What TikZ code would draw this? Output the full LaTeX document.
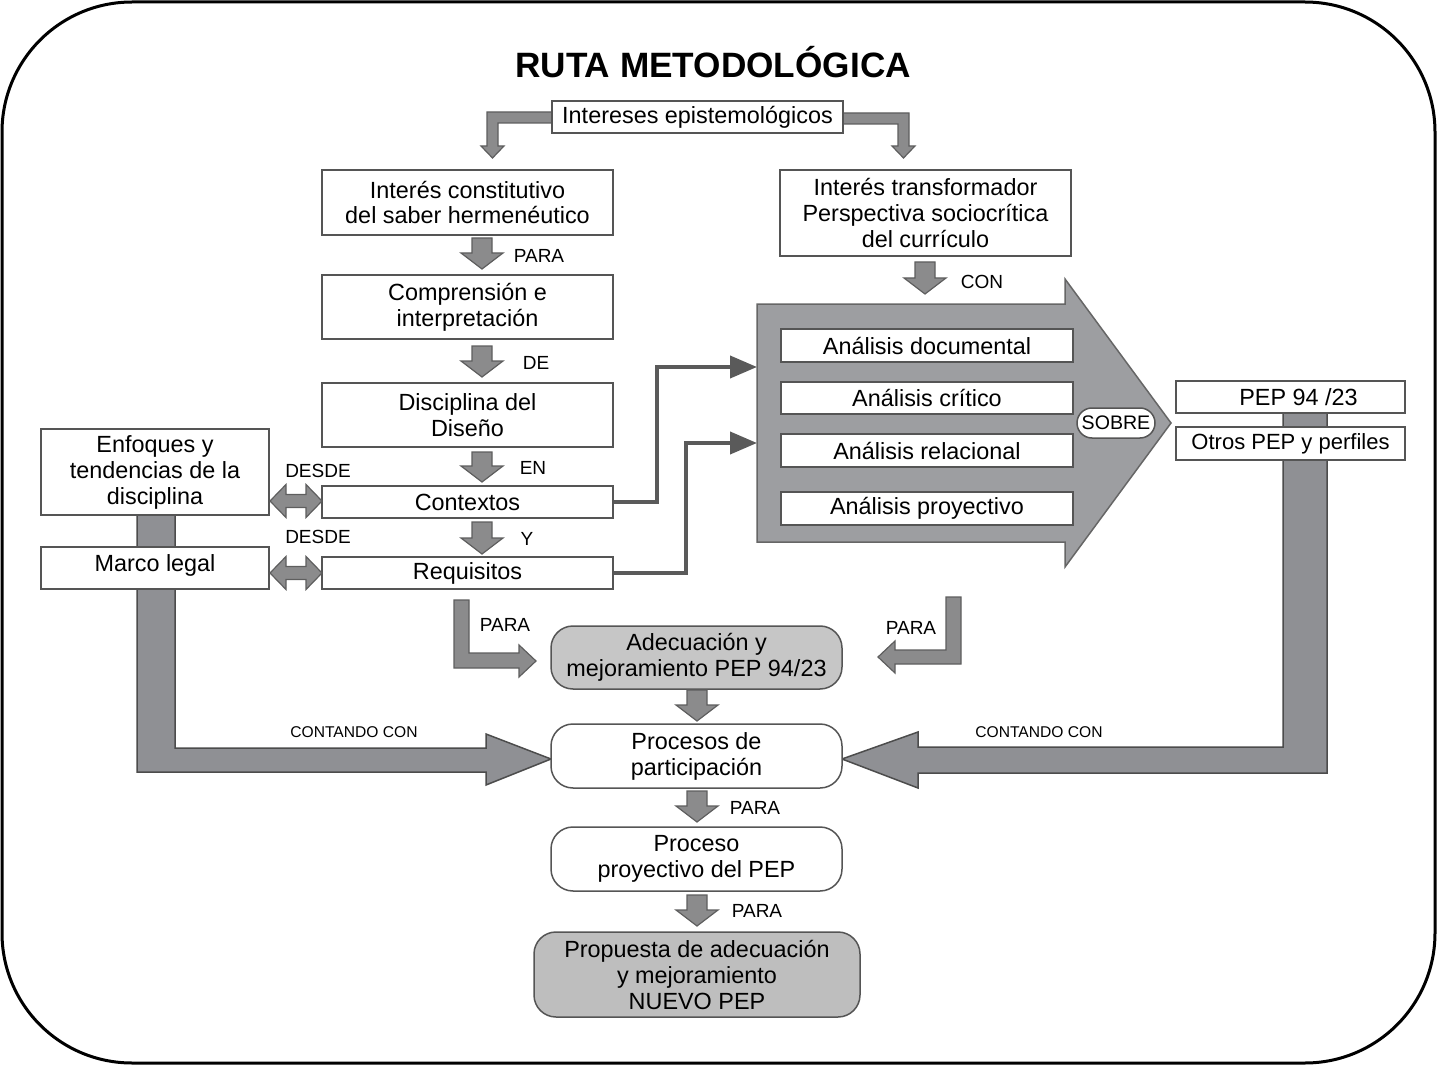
\documentclass[tikz,border=0pt]{standalone}
\usepackage{fontspec}
\setmainfont{Liberation Sans}
\usetikzlibrary{arrows.meta,calc}
\definecolor{boxline}{HTML}{555555}
\definecolor{arrfill}{HTML}{8B8B8C}
\definecolor{arrline}{HTML}{5E5E5E}
\definecolor{barfill}{HTML}{8F9094}
\definecolor{bigfill}{HTML}{9D9EA1}
\definecolor{adefill}{HTML}{C6C6C6}
\definecolor{propfill}{HTML}{BEBEBE}
\definecolor{connline}{HTML}{5A5A5A}
\newcommand\mainfs{\fontsize{11.7}{13}\selectfont}
\newcommand\labfs{\fontsize{9.5}{11}\selectfont}
\newcommand\DnArr[3]{%
  \draw[blockarr] ({#1-10},#2) -- ({#1+10},#2) -- ({#1+10},{#3-16}) -- ({#1+21},{#3-16})
    -- (#1,#3) -- ({#1-21},{#3-16}) -- ({#1-10},{#3-16}) -- cycle;}
\newcommand\DblArr[1]{%
  \draw[blockarr] (270,#1) -- (286,{#1-16.5}) -- (286,{#1-6.5}) -- (306,{#1-6.5}) -- (306,{#1-16.5})
    -- (322,#1) -- (306,{#1+16.5}) -- (306,{#1+6.5}) -- (286,{#1+6.5}) -- (286,{#1+16.5}) -- cycle;}
\begin{document}
\begin{tikzpicture}[x=0.5pt,y=-0.5pt,
  box/.style={draw=boxline,line width=0.75pt,fill=white,inner sep=0pt,align=center,font=\mainfs},
  rbox/.style={box,rounded corners=11pt},
  blockarr/.style={draw=arrline,line width=0.6pt,fill=arrfill,line join=miter},
  bar/.style={draw=black!70,line width=0.75pt,fill=barfill,line join=miter},
  lab/.style={inner sep=0pt,font=\labfs},
  small/.style={inner sep=0pt,font=\fontsize{7.8}{9}\selectfont},
  conn/.style={draw=connline,line width=2pt,-{Triangle[length=13.5pt,width=11pt]}}]
\useasboundingbox (0,0) rectangle (1437,1065);
\draw[line width=1.5pt,rounded corners=65pt] (2,2) rectangle (1435,1063);

\node[inner sep=0pt,font=\bfseries\fontsize{17.6}{20}\selectfont] (title) at (713,62) {RUTA METODOLÓGICA};

% top bent arrows
\draw[blockarr] (552,112) -- (487,112) -- (487,146) -- (481,146) -- (492.5,158) -- (504,146) -- (498,146) -- (498,123) -- (552,123) -- cycle;
\draw[blockarr] (843,113) -- (909,113) -- (909,146) -- (915,146) -- (903.5,158) -- (892,146) -- (898,146) -- (898,124) -- (843,124) -- cycle;
\node[box,minimum width=145.5pt,minimum height=16pt] (ie) at (697.5,117) {Intereses epistemológicos};

% left column
\node[box,minimum width=145.5pt,minimum height=32.5pt] (ic) at (467.5,202.5) {Interés constitutivo\\del saber hermenéutico};
\node[box,minimum width=145.5pt,minimum height=32pt] (ci) at (467.5,307) {Comprensión e\\interpretación};
\node[box,minimum width=145.5pt,minimum height=32pt] (dd) at (467.5,415) {Disciplina del\\Diseño};
\node[box,minimum width=145.5pt,minimum height=16pt] (ctx) at (467.5,502) {Contextos};
\node[box,minimum width=145.5pt,minimum height=16pt] (req) at (467.5,573) {Requisitos};
\DnArr{482}{238}{269}
\DnArr{482}{346}{377}
\DnArr{482}{452}{482}
\DnArr{482}{522}{554}
\node[lab] (l1) at (539,256) {PARA};
\node[lab] (l2) at (536,363) {DE};
\node[lab] (l3) at (533,468) {EN};
\node[lab] (l4) at (527,539) {Y};

% left side boxes and bar
\draw[bar] (137,505) -- (137,772) -- (486,772) -- (486,785) -- (551,759) -- (486,734) -- (486,748) -- (175,748) -- (175,505) -- cycle;
\node[box,minimum width=114pt,minimum height=43pt] (enf) at (155,472) {Enfoques y\\tendencias de la\\disciplina};
\node[box,minimum width=114pt,minimum height=21pt] (ml) at (155,568) {\raisebox{4.5pt}{Marco legal}};
\DblArr{501}
\DblArr{573}
\node[lab] (d1) at (318,471) {DESDE};
\node[lab] (d2) at (318,537) {DESDE};

% right column
\node[box,minimum width=145.5pt,minimum height=43pt] (it) at (925.5,213) {Interés transformador\\Perspectiva sociocrítica\\del currículo};
\DnArr{925}{262}{294}
\node[lab] (l5) at (982,282) {CON};

% big arrow
\draw[draw=black!60,line width=0.75pt,fill=bigfill,line join=miter] (757,304) -- (1065,304) -- (1065,279) -- (1171,423) -- (1065,567) -- (1065,542) -- (757,542) -- cycle;
\coordinate (in1) at (757,367);
\coordinate (in2) at (757,443);
\node[box,minimum width=146pt,minimum height=16.5pt] (ad) at (927,345.5) {Análisis documental};
\node[box,minimum width=146pt,minimum height=16pt] (ac) at (927,398) {Análisis crítico};
\node[box,minimum width=146pt,minimum height=16.5pt] (ar) at (927,450.5) {Análisis relacional};
\node[box,minimum width=146pt,minimum height=16.5pt] (ap) at (927,508.5) {Análisis proyectivo};
\node[box,rounded corners=7.5pt,minimum width=39pt,minimum height=15pt,font=\fontsize{9.8}{11}\selectfont] (sobre) at (1116,423) {SOBRE};

% connectors into big arrow
\draw[conn] (ctx.east) -- ++(43,0) |- (in1);
\draw[conn] (req.east) -- ++(72,0) |- (in2);

% right PEP boxes and bar
\draw[bar] (1283,405) -- (1283,747) -- (918,747) -- (918,732) -- (842,759) -- (918,788) -- (918,773) -- (1327,773) -- (1327,405) -- cycle;
\node[box,minimum width=114.5pt,minimum height=16pt] (pep) at (1290.5,397) {\hspace{8pt}PEP 94 /23};
\node[box,minimum width=114.5pt,minimum height=16.5pt,font=\fontsize{11}{13}\selectfont] (otros) at (1290.5,443.5) {Otros PEP y perfiles};
\node[small] (cc1) at (354,732) {CONTANDO CON};
\node[small] (cc2) at (1039,732) {CONTANDO CON};

% PARA bent arrows
\draw[blockarr] (454,600) -- (469,600) -- (469,653) -- (519,653) -- (519,645) -- (536,661) -- (519,677) -- (519,668) -- (454,668) -- cycle;
\draw[blockarr] (961,597) -- (946,597) -- (946,650) -- (895,650) -- (895,641) -- (878,657) -- (895,673) -- (895,664) -- (961,664) -- cycle;
\node[lab] (l6) at (505,625) {PARA};
\node[lab] (l7) at (911,628) {PARA};

% bottom column
\node[rbox,fill=adefill,minimum width=145.5pt,minimum height=31.5pt] (ade) at (696.5,657.5) {Adecuación y\\mejoramiento PEP 94/23};
\node[rbox,minimum width=145.5pt,minimum height=32pt] (pp) at (696.5,756) {Procesos de\\participación};
\node[rbox,minimum width=145.5pt,minimum height=32pt] (ppp) at (696.5,859) {Proceso\\proyectivo del PEP};
\node[rbox,fill=propfill,minimum width=163pt,minimum height=42.5pt] (prop) at (697,974.5) {Propuesta de adecuación\\y mejoramiento\\NUEVO PEP};
\DnArr{697}{690}{721}
\DnArr{697}{791}{822}
\DnArr{697}{895}{926}
\node[lab] (l8) at (755,808) {PARA};
\node[lab] (l9) at (757,911) {PARA};
\end{tikzpicture}
\end{document}
